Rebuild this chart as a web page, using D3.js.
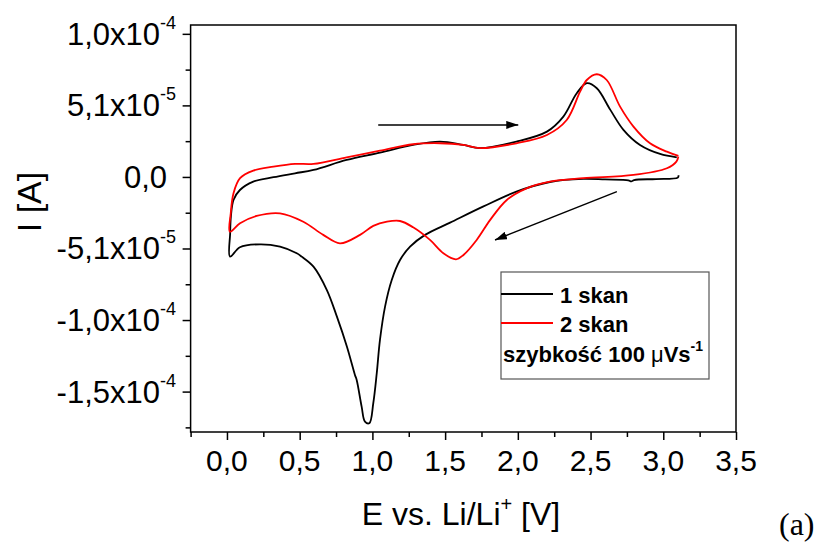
<!DOCTYPE html>
<html><head><meta charset="utf-8">
<script src="https://cdn.jsdelivr.net/npm/d3@7"></script>
<style>body{margin:0;background:#fff}</style>
</head><body><svg id="c" width="821" height="545"></svg>
<script>
// Current values in units of 1e-5 A, potential in V
const scan1 = [
  [3.105,0.12],[3.10,-0.05],[2.95,-0.15],[2.80,-0.22],[2.78,-0.32],[2.76,-0.24],[2.60,-0.18],[2.45,-0.14],[2.22,-0.36],
  [1.99,-1.05],[1.76,-2.12],[1.534,-3.26],[1.362,-4.13],[1.259,-4.97],[1.19,-5.92],
  [1.133,-7.34],[1.087,-9.24],[1.052,-11.62],[1.03,-13.99],[1.006,-16.13],[0.979,-17.55],
  [0.949,-17.44],[0.926,-16.37],[0.892,-14.47],[0.88,-14.11],[0.825,-12.10],[0.756,-9.96],
  [0.687,-8.06],[0.595,-6.39],[0.514,-5.68],[0.48,-5.44],[0.365,-4.97],[0.227,-4.80],
  [0.089,-5.01],[0.021,-5.68],
  [0.022,-4.01],[0.027,-2.83],[0.045,-1.64],[0.089,-0.93],[0.181,-0.33],[0.32,-0.02],
  [0.468,0.26],[0.595,0.50],[0.823,1.21],[1.052,1.73],[1.28,2.28],[1.465,2.52],
  [1.625,2.28],[1.74,2.05],[1.99,2.52],[2.2,3.23],[2.313,4.30],[2.405,5.97],[2.474,6.68],
  [2.543,6.32],[2.636,4.78],[2.726,3.36],[2.84,2.28],[2.978,1.64],[3.093,1.40]
];
const scan2 = [
  [3.104,1.45],[3.09,1.09],[3.025,0.62],[2.795,0.14],[2.45,-0.09],[2.22,-0.33],[2.06,-0.81],
  [1.924,-1.64],[1.81,-3.06],[1.717,-4.49],[1.626,-5.56],[1.575,-5.87],[1.488,-5.44],
  [1.396,-4.49],[1.28,-3.59],[1.19,-3.14],[1.1,-3.19],[1.006,-3.49],[0.915,-4.13],
  [0.777,-4.73],[0.662,-4.13],[0.525,-3.19],[0.365,-2.59],[0.204,-2.78],[0.09,-3.30],[0.02,-3.90],
  [0.026,-2.59],[0.045,-1.16],[0.09,-0.09],[0.181,0.45],[0.32,0.73],[0.468,0.93],[0.595,0.93],
  [0.823,1.40],[1.052,1.87],[1.28,2.33],[1.465,2.40],[1.625,2.28],[1.74,2.05],[1.99,2.40],
  [2.2,2.99],[2.336,4.06],[2.428,6.08],[2.474,6.91],[2.543,7.32],[2.611,6.91],[2.703,5.01],
  [2.795,3.59],[2.909,2.40],[3.025,1.80],[3.104,1.50]
];
const xMajor = [0,0.5,1,1.5,2,2.5,3,3.5];
const xMinor = [-0.25,0.25,0.75,1.25,1.75,2.25,2.75,3.25];
const xLabels = ["0,0","0,5","1,0","1,5","2,0","2,5","3,0","3,5"];
const yMajor = [10.2,5.1,0,-5.1,-10.2,-15.3];
const yMinor = [7.65,2.55,-2.55,-7.65,-12.75,-17.85];
const yLabels = [["1,0x10","-4"],["5,1x10","-5"],["0,0",""],["-5,1x10","-5"],["-1,0x10","-4"],["-1,5x10","-4"]];
const arrows = [[[1.04,3.71],[2.003,3.71]],[[2.681,-1.05],[1.843,-4.49]]];
const legendItems = [{label:"1 skan",color:"#000000"},{label:"2 skan",color:"#ff0000"}];
const series = [{data:scan1,color:"#000000"},{data:scan2,color:"#ff0000"}];

const svg = d3.select("#c");
const font = "'Liberation Sans', Arial, sans-serif";
const x = d3.scaleLinear().domain([-0.25,3.5]).range([190.6,736]);
const y = d3.scaleLinear().domain([-18.18,10.83]).range([432,25]);

// axes ticks
const gx = svg.append("g").attr("transform",`translate(0,${y(-18.18)})`);
gx.call(d3.axisBottom(x).tickValues(xMajor).tickSize(8).tickFormat(""));
gx.select(".domain").remove();
const gx2 = svg.append("g").attr("transform",`translate(0,${y(-18.18)})`);
gx2.call(d3.axisBottom(x).tickValues(xMinor).tickSize(5).tickFormat(""));
gx2.select(".domain").remove();
const gy = svg.append("g").attr("transform",`translate(${x(-0.25)},0)`);
gy.call(d3.axisLeft(y).tickValues(yMajor).tickSize(8).tickFormat(""));
gy.select(".domain").remove();
const gy2 = svg.append("g").attr("transform",`translate(${x(-0.25)},0)`);
gy2.call(d3.axisLeft(y).tickValues(yMinor).tickSize(5).tickFormat(""));
gy2.select(".domain").remove();
svg.selectAll(".tick line").attr("stroke","#000").attr("stroke-width",1.5);

// frame
svg.append("rect").attr("x",x(-0.25)).attr("y",y(10.83))
  .attr("width",x(3.5)-x(-0.25)).attr("height",y(-18.18)-y(10.83))
  .attr("fill","none").attr("stroke","#000").attr("stroke-width",1.5);

// x labels
svg.append("g").selectAll("text").data(xMajor).join("text")
  .attr("x",d=>x(d)).attr("y",471).attr("text-anchor","middle")
  .attr("font-family",font).attr("font-size",30).attr("fill","#000")
  .text((d,i)=>xLabels[i]);

// y labels
const yl = svg.append("g").selectAll("text").data(yMajor).join("text")
  .attr("x",(d,i)=>yLabels[i][1] ? 176 : 167).attr("y",d=>y(d)+11).attr("text-anchor","end")
  .attr("font-family",font).attr("font-size",31).attr("fill","#000");
yl.each(function(d,i){
  const t = d3.select(this);
  t.append("tspan").text(yLabels[i][0]);
  if (yLabels[i][1]) t.append("tspan").attr("dy",-16).attr("font-size",18).text(yLabels[i][1]);
});

// axis titles
const xt = svg.append("text").attr("x",461).attr("y",525).attr("text-anchor","middle")
  .attr("font-family",font).attr("font-size",32).attr("fill","#000");
xt.append("tspan").text("E vs. Li/Li");
xt.append("tspan").attr("dy",-14).attr("font-size",20).text("+");
xt.append("tspan").attr("dy",14).text(" [V]");
svg.append("text").attr("transform","translate(41,202) rotate(-90)").attr("text-anchor","middle")
  .attr("font-family",font).attr("font-size",34).attr("fill","#000").text("I [A]");

// curves
const line = d3.line().x(d=>x(d[0])).y(d=>y(d[1])).curve(d3.curveCatmullRom.alpha(0.5));
svg.append("g").selectAll("path").data(series).join("path")
  .attr("d",d=>line(d.data)).attr("fill","none").attr("stroke",d=>d.color)
  .attr("stroke-width",1.8).attr("stroke-linejoin","round");

// arrows
svg.append("defs").append("marker").attr("id","ah").attr("viewBox","0 0 12 8")
  .attr("refX",12).attr("refY",4).attr("markerWidth",12).attr("markerHeight",8)
  .attr("markerUnits","userSpaceOnUse").attr("orient","auto")
  .append("path").attr("d","M0,0 L12,4 L0,8 Z").attr("fill","#000");
svg.append("g").selectAll("line").data(arrows).join("line")
  .attr("x1",d=>x(d[0][0])).attr("y1",d=>y(d[0][1]))
  .attr("x2",d=>x(d[1][0])).attr("y2",d=>y(d[1][1]))
  .attr("stroke","#000").attr("stroke-width",1.5).attr("marker-end","url(#ah)");

// legend
const lg = svg.append("g");
lg.append("rect").attr("x",501).attr("y",272).attr("width",208).attr("height",107)
  .attr("fill","#fff").attr("stroke","#555").attr("stroke-width",1.2);
legendItems.forEach((it,i)=>{
  const yy = 294 + i*29;
  lg.append("line").attr("x1",501).attr("x2",553).attr("y1",yy).attr("y2",yy)
    .attr("stroke",it.color).attr("stroke-width",1.8);
  lg.append("text").attr("x",560).attr("y",yy+9).attr("font-family",font)
    .attr("font-weight","bold").attr("font-size",22).attr("fill","#000").text(it.label);
});
const st = lg.append("text").attr("x",503).attr("y",362).attr("font-family",font)
  .attr("font-weight","bold").attr("font-size",22).attr("fill","#000");
st.append("tspan").text("szybkość 100 ");
st.append("tspan").attr("font-weight","normal").text("μ");
st.append("tspan").text("Vs");
st.append("tspan").attr("dy",-11).attr("font-size",14).text("-1");

// panel tag
svg.append("text").attr("x",779).attr("y",535).attr("font-family","'Liberation Serif','Times New Roman',serif")
  .attr("font-size",32).attr("fill","#000").text("(a)");
</script></body></html>
